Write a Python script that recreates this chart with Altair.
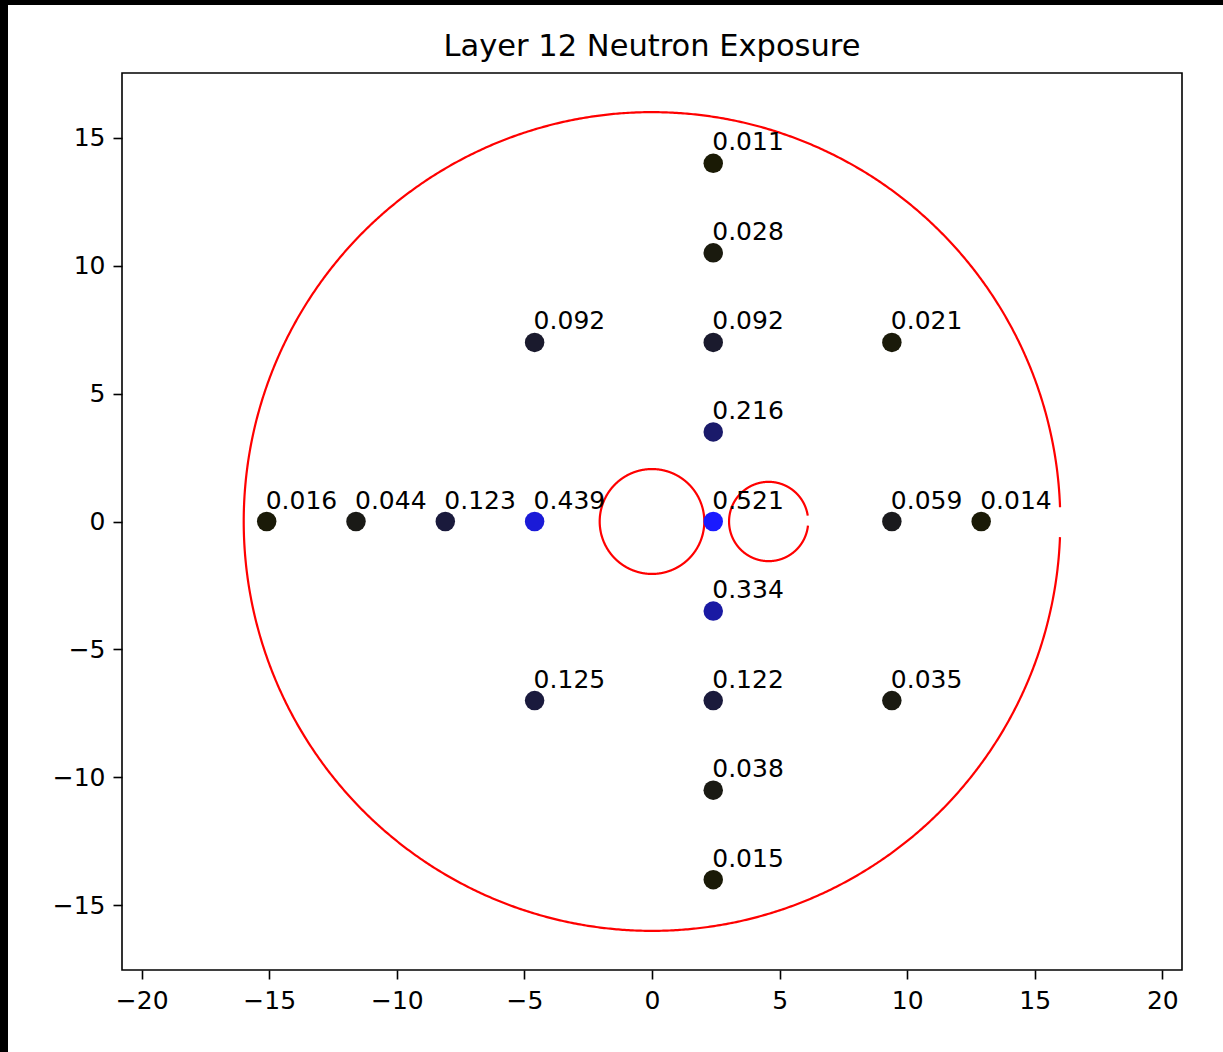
import altair as alt
import pandas as pd
import math

# ---- data ----
px = [2.4, 2.4, -4.6, 2.4, 9.4, 2.4, -15.1, -11.6, -8.1, -4.6, 2.4, 9.4, 12.9,
      2.4, -4.6, 2.4, 9.4, 2.4, 2.4]
py = [14, 10.5, 7, 7, 7, 3.5, 0, 0, 0, 0, 0, 0, 0,
      -3.5, -7, -7, -7, -10.5, -14]
exposure = [0.011, 0.028, 0.092, 0.092, 0.021, 0.216, 0.016, 0.044, 0.123, 0.439,
            0.521, 0.059, 0.014, 0.334, 0.125, 0.122, 0.035, 0.038, 0.015]

# circles: centre x, centre y, radius, start angle, end angle (radians)
circ_cx = [0.0, 4.57, 0.0]
circ_cy = [0.0, 0.0, 0.0]
circ_r = [16.0, 1.55, 2.05]
circ_t0 = [0.035, 0.15, 0.0]
circ_t1 = [2 * math.pi - 0.035, 2 * math.pi - 0.10, 2 * math.pi + 0.01]

x_ticks = [-20, -15, -10, -5, 0, 5, 10, 15, 20]
y_ticks = [-15, -10, -5, 0, 5, 10, 15]
x_dom = [-20.77, 20.77]
y_dom = [-17.53, 17.53]

W, H = 1060, 897
PAD = {"left": 122, "top": 73, "right": 41, "bottom": 82}
FONT = "DejaVu Sans"

df = pd.DataFrame({"x": px, "y": py, "v": exposure})

xs = alt.Scale(domain=x_dom, nice=False, zero=False)
ys = alt.Scale(domain=y_dom, nice=False, zero=False)
xaxis = alt.Axis(values=x_ticks, format="d", grid=False, domain=False, zindex=1,
                 tickSize=9, tickWidth=1.6, tickColor="black", labelFontSize=25,
                 labelFont=FONT, labelColor="black", labelPadding=9, title=None)
yaxis = alt.Axis(values=y_ticks, format="d", grid=False, domain=False, zindex=1,
                 tickSize=9, tickWidth=1.6, tickColor="black", labelFontSize=25,
                 labelFont=FONT, labelColor="black", labelPadding=8, title=None)

# white page area (the reference has a black strip at top and left)
one = alt.Data(values=[{"a": 1}])
page = alt.Chart(one).mark_rect(color="white").encode(
    x=alt.value(8 - PAD["left"]), x2=alt.value(W + PAD["right"]),
    y=alt.value(5 - PAD["top"]), y2=alt.value(H + PAD["bottom"]))

frame = alt.Chart(one).mark_rect(filled=False, stroke="black", strokeWidth=1.6).encode(
    x=alt.datum(x_dom[0], scale=xs, axis=xaxis),
    x2=alt.datum(x_dom[1]),
    y=alt.datum(y_dom[0], scale=ys, axis=yaxis),
    y2=alt.datum(y_dom[1]))

rings = []
for cx, cy, r, t0, t1 in zip(circ_cx, circ_cy, circ_r, circ_t0, circ_t1):
    rings.append(
        alt.Chart(alt.sequence(t0, t1, 0.005, as_="t"))
        .transform_calculate(cx=f"{cx} + {r}*cos(datum.t)", cy=f"{cy} + {r}*sin(datum.t)")
        .mark_line(color="#ff0000", strokeWidth=2.2)
        .encode(x=alt.X("cx:Q", scale=xs, axis=xaxis),
                y=alt.Y("cy:Q", scale=ys, axis=yaxis),
                order="t:Q")
    )

pts = alt.Chart(df).mark_circle(size=380, opacity=1).encode(
    x=alt.X("x:Q", scale=xs, axis=xaxis),
    y=alt.Y("y:Q", scale=ys, axis=yaxis),
    color=alt.Color("v:Q", scale=alt.Scale(domain=[0, 0.521], range=["#1a1a00", "#1a1aff"],
                                           interpolate="rgb"), legend=None))

labels = alt.Chart(df).mark_text(align="left", baseline="alphabetic", dy=-13, dx=-1,
                                 font=FONT, fontSize=25, color="black").encode(
    x=alt.X("x:Q", scale=xs, axis=xaxis),
    y=alt.Y("y:Q", scale=ys, axis=yaxis),
    text=alt.Text("v:Q", format=".3f"))

chart = alt.layer(page, frame, *rings, pts, labels).properties(
    width=W, height=H,
    autosize=alt.AutoSizeParams(type="none"),
    padding=PAD,
    background="black",
    title=alt.TitleParams("Layer 12 Neutron Exposure", font=FONT, fontSize=30.5,
                          fontWeight="normal", color="black", anchor="middle",
                          frame="group", baseline="alphabetic", offset=17, dy=98,
                          zindex=1),
).configure_view(stroke="transparent")

chart.save("out.html", embed_options={"renderer": "svg", "actions": False})
